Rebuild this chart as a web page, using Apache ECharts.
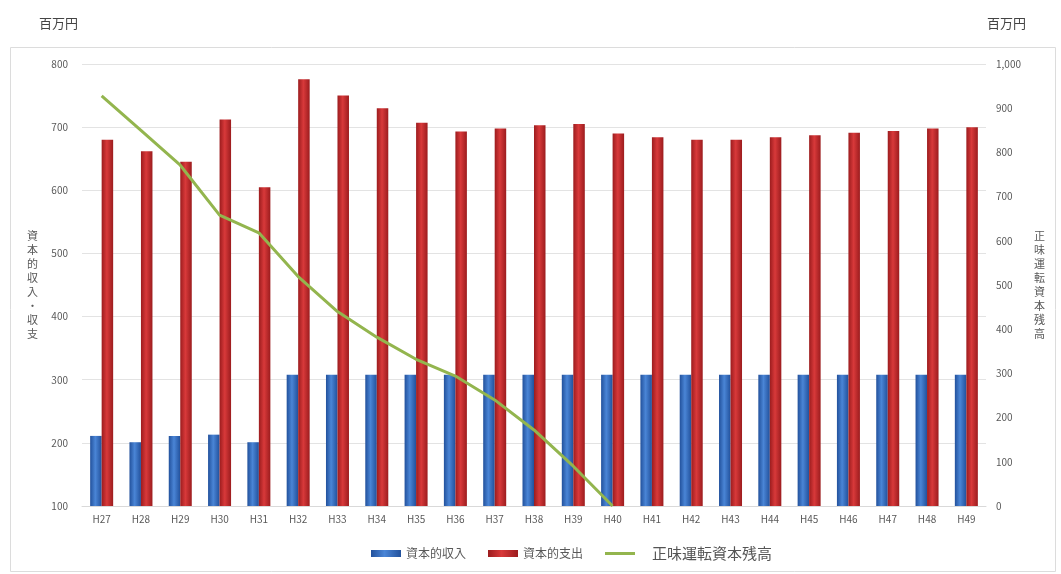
<!DOCTYPE html>
<html>
<head>
<meta charset="utf-8">
<script src="https://cdn.jsdelivr.net/npm/echarts@6/dist/echarts.min.js"></script>
<style>
  html, body { margin: 0; padding: 0; background: #fff; }
  #chart { width: 1061px; height: 574px; }
</style>
</head>
<body>
<div id="chart"></div>
<script>
// 年度（平成）
const years = ['H27','H28','H29','H30','H31','H32','H33','H34','H35','H36','H37','H38',
               'H39','H40','H41','H42','H43','H44','H45','H46','H47','H48','H49'];

// 資本的収入（百万円）
const capitalIncome = [211, 201, 211, 213, 201, 308, 308, 308, 308, 308, 308, 308,
                       308, 308, 308, 308, 308, 308, 308, 308, 308, 308, 308];

// 資本的支出（百万円）
const capitalExpense = [680, 662, 645, 712, 605, 776, 750, 730, 707, 693, 698, 703,
                        705, 690, 684, 680, 680, 684, 687, 691, 694, 698, 700];

// 正味運転資本残高（百万円）
const workingCapital = [928, 850, 771, 658, 618, 519, 440, 382, 332, 294, 240, 172,
                        90, 0, null, null, null, null, null, null, null, null, null];

const seriesNames = ['資本的収入', '資本的支出', '正味運転資本残高'];
const leftAxisName = '資本的収入・収支';
const rightAxisName = '正味運転資本残高';
const unitLabel = '百万円';

const FONT = '"Noto Sans CJK JP", "Noto Sans", sans-serif';
const TXT = '#595959';

const vertical = s => s.split('').join('\n');

const cylinder = (edge, mid) => ({
  type: 'linear', x: 0, y: 0, x2: 1, y2: 0,
  colorStops: [
    { offset: 0, color: edge },
    { offset: 0.45, color: mid },
    { offset: 1, color: edge }
  ]
});

const chart = echarts.init(document.getElementById('chart'));
chart.setOption({
  backgroundColor: '#fff',
  animation: false,
  textStyle: { fontFamily: FONT },
  title: [
    { text: unitLabel, left: 34, top: 12,
      textStyle: { fontSize: 13, fontWeight: 'normal', color: '#444', fontFamily: FONT } },
    { text: unitLabel, right: 30, top: 12,
      textStyle: { fontSize: 13, fontWeight: 'normal', color: '#444', fontFamily: FONT } }
  ],
  graphic: [{
    type: 'rect', left: 8, top: 45, z: -1,
    shape: { width: 1045, height: 524 },
    style: { fill: 'none', stroke: '#dcdcdc', lineWidth: 1 }
  }],
  grid: { left: 82, right: 75, top: 64, bottom: 68 },
  legend: {
    bottom: 8, left: 366,
    itemWidth: 30, itemHeight: 7, itemGap: 22,
    textStyle: { color: TXT, fontSize: 12, fontFamily: FONT },
    data: [
      { name: seriesNames[0], icon: 'rect' },
      { name: seriesNames[1], icon: 'rect',
        textStyle: { padding: [0, 30, 0, 0] } },
      { name: seriesNames[2], icon: 'path://M0,0h30v3h-30z',
        textStyle: { fontSize: 15, color: '#555', padding: [0, 0, 0, 12],
                     fontFamily: '"Noto Sans CJK JP", serif' } }
    ]
  },
  xAxis: {
    type: 'category',
    data: years,
    axisLine: { lineStyle: { color: '#d9d9d9' } },
    axisTick: { show: false },
    axisLabel: { color: TXT, fontSize: 10, margin: 8 }
  },
  yAxis: [
    {
      type: 'value', min: 100, max: 800, interval: 100,
      name: vertical(leftAxisName),
      nameLocation: 'middle', nameRotate: 0, nameGap: 44,
      nameTextStyle: { color: TXT, fontSize: 11, lineHeight: 14 },
      axisLine: { show: false }, axisTick: { show: false },
      axisLabel: { color: TXT, fontSize: 10, margin: 14 },
      splitLine: { lineStyle: { color: '#e3e3e3' } }
    },
    {
      type: 'value', min: 0, max: 1000, interval: 100,
      name: vertical(rightAxisName),
      nameLocation: 'middle', nameRotate: 0, nameGap: 48,
      nameTextStyle: { color: TXT, fontSize: 11, lineHeight: 14 },
      axisLine: { show: false }, axisTick: { show: false },
      axisLabel: {
        color: TXT, fontSize: 10, margin: 10,
        formatter: v => v.toLocaleString('en-US')
      },
      splitLine: { show: false }
    }
  ],
  series: [
    {
      name: seriesNames[0], type: 'bar', yAxisIndex: 0,
      data: capitalIncome, barWidth: 11.5, barGap: '0%',
      itemStyle: { color: cylinder('#22519c', '#4a85d6') }
    },
    {
      name: seriesNames[1], type: 'bar', yAxisIndex: 0,
      data: capitalExpense, barWidth: 11.5, barGap: '0%',
      itemStyle: { color: cylinder('#9c1c1e', '#d8393a') }
    },
    {
      name: seriesNames[2], type: 'line', yAxisIndex: 1,
      data: workingCapital, symbol: 'none', connectNulls: false,
      lineStyle: { color: '#93b54e', width: 3 },
      itemStyle: { color: '#93b54e' },
      z: 5
    }
  ]
});
</script>
</body>
</html>
